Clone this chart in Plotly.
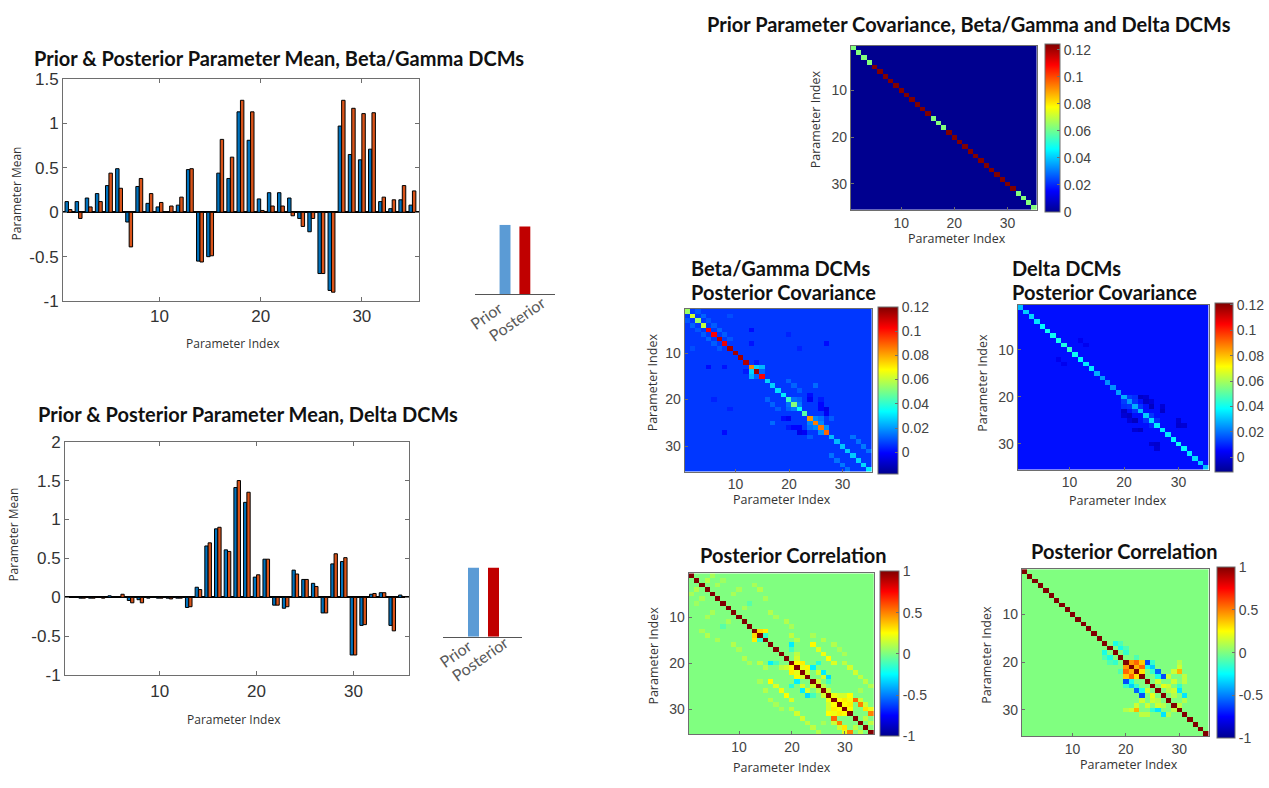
import plotly.graph_objects as go

W, H = 1269, 788

# ---------------- data ----------------
param_index = list(range(1, 36))
tick_vals = [10, 20, 30]

bg_prior_mean = [0.12, 0.12, 0.16, 0.21, 0.30, 0.49, -0.11, 0.29, 0.10, 0.06,
                 0.00, 0.08, 0.48, -0.55, -0.50, 0.44, 0.38, 1.13, 0.81, 0.15,
                 0.22, 0.22, 0.16, -0.07, -0.22, -0.69, -0.88, 0.97, 0.65, 0.59,
                 0.71, 0.12, 0.04, 0.14, 0.08]
bg_post_mean = [0.03, -0.07, 0.06, 0.12, 0.44, 0.27, -0.39, 0.38, 0.21, 0.11,
                0.07, 0.17, 0.49, -0.56, -0.49, 0.82, 0.62, 1.26, 1.13, 0.02,
                0.07, 0.07, -0.04, -0.16, -0.07, -0.69, -0.90, 1.26, 1.17, 1.11,
                1.12, 0.17, 0.14, 0.30, 0.24]
delta_prior_mean = [0.00, -0.01, -0.01, 0.00, 0.02, 0.00, -0.04, -0.03, -0.01, -0.01,
                    -0.01, -0.01, -0.13, 0.13, 0.66, 0.88, 0.61, 1.41, 1.22, 0.26,
                    0.49, -0.10, -0.14, 0.35, 0.23, 0.18, -0.20, 0.43, 0.46, -0.74,
                    -0.36, 0.04, 0.06, -0.36, 0.03]
delta_post_mean = [0.00, -0.01, -0.01, -0.01, 0.00, 0.04, -0.07, -0.07, 0.00, -0.01,
                   -0.02, -0.01, -0.12, 0.10, 0.70, 0.90, 0.59, 1.50, 1.35, 0.29,
                   0.49, -0.10, -0.12, 0.30, 0.23, 0.14, -0.20, 0.56, 0.51, -0.74,
                   -0.35, 0.05, 0.06, -0.43, 0.01]

legend_labels = ["Prior", "Posterior"]
legend_heights_bg = [1.0, 0.975]
legend_heights_delta = [1.0, 1.0]

mean_ticks = [-1, -0.5, 0, 0.5, 1, 1.5, 2]
mean_ticktext = ["-1", "-0.5", "0", "0.5", "1", "1.5", "2"]

prior_cov_diag = [0.0625, 0.0625, 0.0625, 0.0625, 0.125, 0.125, 0.125, 0.125, 0.125, 0.125,
                  0.125, 0.125, 0.125, 0.125, 0.125, 0.0625, 0.0625, 0.0625, 0.125, 0.125,
                  0.125, 0.125, 0.125, 0.125, 0.125, 0.125, 0.125, 0.125, 0.125, 0.125,
                  0.125, 0.0625, 0.0625, 0.0625, 0.0625]
prior_cov_off = 0.0

bg_cov_diag = [0.055, 0.062, 0.055, 0.060, 0.103, 0.103, 0.112, 0.105, 0.115, 0.115,
               0.115, 0.113, 0.085, 0.115, 0.103, 0.028, 0.028, 0.030, 0.032, 0.042,
               0.052, 0.035, 0.046, 0.083, 0.086, 0.087, 0.089, 0.025, 0.025, 0.026,
               0.027, 0.027, 0.028, 0.029, 0.031]
bg_cov_off = 0.007
bg_cov_cells = [(13, 14, 0.028), (13, 15, 0.024), (14, 15, 0.013), (5, 13, 0.001),
                (8, 13, 0.002), (8, 27, 0.001), (20, 24, -0.002), (21, 26, 0.0),
                (22, 27, -0.004), (22, 26, 0.0), (19, 24, 0.001), (23, 27, -0.002),
                (20, 21, 0.015), (21, 22, 0.016), (20, 22, 0.013), (24, 25, 0.018),
                (25, 26, 0.018), (26, 27, 0.019), (24, 26, 0.015), (28, 32, 0.015),
                (29, 33, 0.015), (30, 34, 0.016), (31, 35, 0.015), (16, 20, 0.013),
                (17, 21, 0.013), (18, 22, 0.012), (2, 4, 0.013), (3, 5, 0.011),
                (1, 3, 0.011), (4, 6, 0.012), (5, 7, 0.013), (6, 8, 0.012),
                (7, 9, 0.011), (17, 25, 0.014), (12, 14, 0.003), (6, 20, 0.004),
                (2, 9, 0.010), (24, 28, 0.012), (20, 26, 0.003), (9, 22, 0.004)]

delta_cov_diag = [0.030, 0.032, 0.033, 0.035, 0.038, 0.040, 0.040, 0.041, 0.042, 0.045,
                  0.040, 0.038, 0.036, 0.036, 0.028, 0.025, 0.024, 0.024, 0.026, 0.028,
                  0.025, 0.028, 0.030, 0.032, 0.034, 0.036, 0.036, 0.036, 0.038, 0.040,
                  0.038, 0.036, 0.034, 0.032, 0.030]
delta_cov_off = 0.007
delta_cov_cells = [(20, 23, -0.003), (22, 25, -0.004), (23, 27, -0.003), (21, 24, -0.003),
                   (22, 27, -0.001), (26, 30, -0.002), (25, 30, -0.001), (26, 31, -0.001),
                   (20, 24, -0.001), (21, 25, 0.000), (20, 21, 0.013), (21, 22, 0.012),
                   (22, 23, 0.012), (20, 22, 0.011), (8, 12, 0.003), (9, 13, 0.003),
                   (24, 25, 0.012), (25, 26, 0.011)]

corr_diag = [1.0, 1.0, 1.0, 1.0, 1.0, 1.0, 1.0, 1.0, 1.0, 1.0,
             1.0, 1.0, 1.0, 1.0, 1.0, 1.0, 1.0, 1.0, 1.0, 1.0,
             1.0, 1.0, 1.0, 1.0, 1.0, 1.0, 1.0, 1.0, 1.0, 1.0,
             1.0, 1.0, 1.0, 1.0, 1.0]
corr_off = 0.0
bg_corr_cells = [(13, 14, 0.32), (13, 15, 0.28), (14, 15, -0.15),
                 (16, 20, -0.28), (16, 24, 0.26), (17, 25, 0.18), (18, 26, 0.22),
                 (19, 27, 0.25), (20, 28, 0.18), (17, 20, -0.12), (18, 21, 0.12),
                 (20, 21, 0.25), (20, 22, 0.28), (21, 22, 0.20), (21, 23, 0.26),
                 (22, 23, 0.18), (19, 21, 0.16), (21, 24, -0.28), (22, 26, -0.28),
                 (23, 27, -0.32), (20, 25, -0.18), (22, 25, 0.16), (23, 26, 0.16),
                 (24, 27, -0.12), (24, 25, 0.16), (25, 26, 0.12), (26, 27, 0.16),
                 (27, 28, 0.22), (28, 29, 0.25), (28, 30, 0.28), (28, 31, 0.22),
                 (29, 30, 0.25), (29, 31, 0.28), (30, 31, 0.25), (27, 29, 0.16),
                 (27, 30, 0.16), (28, 32, 0.55), (29, 33, 0.50), (31, 35, 0.50),
                 (30, 34, 0.30), (27, 31, 0.25), (29, 34, 0.15), (28, 33, 0.15),
                 (30, 35, 0.20), (32, 34, 0.12), (33, 35, 0.12), (2, 4, 0.10),
                 (3, 6, 0.08), (5, 9, 0.08), (7, 12, -0.08), (9, 16, 0.10),
                 (10, 17, 0.08), (11, 19, 0.10), (12, 20, 0.08), (6, 15, 0.08),
                 (4, 14, 0.10), (3, 13, 0.08), (14, 20, 0.12), (15, 21, 0.10),
                 (14, 24, 0.08), (15, 26, 0.10), (20, 30, 0.12), (21, 31, 0.16),
                 (22, 32, 0.16), (23, 33, 0.12), (24, 34, 0.12), (25, 35, 0.10),
                 (26, 33, 0.08), (18, 30, 0.08), (17, 29, 0.08), (16, 28, 0.10),
                 (1, 5, 0.08), (2, 7, 0.06), (4, 10, 0.08), (8, 11, 0.08)]
delta_corr_cells = [(20, 21, 0.45), (20, 22, 0.55), (20, 23, 0.35), (21, 22, 0.40),
                    (21, 23, 0.55), (22, 23, 0.30), (20, 24, -0.60), (21, 25, -0.35),
                    (22, 26, -0.55), (23, 27, -0.60), (21, 24, -0.20), (22, 25, -0.15),
                    (23, 26, -0.20), (20, 25, -0.15), (22, 30, 0.40), (26, 30, -0.30),
                    (27, 31, -0.30), (25, 30, -0.15), (24, 29, 0.15), (23, 28, 0.15),
                    (25, 28, 0.15), (26, 28, 0.10), (24, 26, 0.15), (25, 27, 0.20),
                    (16, 18, -0.20), (17, 19, -0.20), (16, 19, -0.10), (18, 20, -0.15),
                    (17, 20, -0.10), (19, 22, -0.10), (21, 30, 0.15), (22, 29, 0.15),
                    (20, 30, 0.10), (23, 31, 0.12), (24, 31, 0.12), (26, 29, 0.15),
                    (27, 29, 0.10), (28, 31, 0.10), (29, 30, 0.12)]

cov_ticks = [0, 0.02, 0.04, 0.06, 0.08, 0.1, 0.12]
cov_ticktext = ["0", "0.02", "0.04", "0.06", "0.08", "0.1", "0.12"]
corr_ticks = [-1, -0.5, 0, 0.5, 1]
corr_ticktext = ["-1", "-0.5", "0", "0.5", "1"]


def build_matrix(diag, off, cells):
    n = len(diag)
    m = [[off for _ in range(n)] for _ in range(n)]
    for k in range(n):
        m[k][k] = diag[k]
    for i, j, v in cells:
        m[i - 1][j - 1] = v
        m[j - 1][i - 1] = v
    return m


prior_cov = build_matrix(prior_cov_diag, prior_cov_off, [])
bg_cov = build_matrix(bg_cov_diag, bg_cov_off, bg_cov_cells)
delta_cov = build_matrix(delta_cov_diag, delta_cov_off, delta_cov_cells)
bg_corr = build_matrix(corr_diag, corr_off, bg_corr_cells)
delta_corr = build_matrix(corr_diag, corr_off, delta_corr_cells)

# ---------------- styling helpers ----------------
JET = [[0.0, "rgb(0,0,143)"], [0.125, "rgb(0,0,255)"], [0.375, "rgb(0,255,255)"],
       [0.625, "rgb(255,255,0)"], [0.875, "rgb(255,0,0)"], [1.0, "rgb(128,0,0)"]]
TICKFONT = dict(family="Liberation Sans, Arial", size=17, color="#333333")
HTICKFONT = dict(family="Liberation Sans, Arial", size=14, color="#444444")
TITLEFONT = dict(family="Lato, Open Sans", size=20, color="#111111")
LABELFONT = dict(family="Open Sans, Noto Sans", size=12, color="#333333")
FRAME = "#6e6e6e"


def xd(l, r):
    return [l / W, r / W]


def yd(t, b):
    return [1 - b / H, 1 - t / H]


fig = go.Figure()
layout = dict(width=W, height=H, margin=dict(l=0, r=0, t=0, b=0), autosize=False,
              paper_bgcolor="white", plot_bgcolor="white", showlegend=False,
              barmode="group", bargap=0.32, bargroupgap=0.0)
annotations = []


def ann(text, px, py, font, angle=0, xanchor="center"):
    annotations.append(dict(text=text, x=px / W, y=1 - py / H, xref="paper", yref="paper",
                            showarrow=False, font=font, textangle=angle,
                            xanchor=xanchor, yanchor="middle"))


# ---------------- bar charts ----------------
def bar_panel(idx, prior, post, xdom, ydom, xr, yr):
    key = "" if idx == 1 else str(idx)
    xa, ya = "x" + key, "y" + key
    fig.add_trace(go.Bar(x=param_index, y=prior, xaxis=xa, yaxis=ya,
                         marker=dict(color="#0072BD", line=dict(color="black", width=1))))
    fig.add_trace(go.Bar(x=param_index, y=post, xaxis=xa, yaxis=ya,
                         marker=dict(color="#D95319", line=dict(color="black", width=1))))
    layout["xaxis" + key] = dict(domain=xdom, range=xr, tickvals=tick_vals, ticks="inside",
                                 ticklen=4, tickcolor=FRAME, showline=True, linecolor=FRAME,
                                 mirror="ticks", showgrid=False, zeroline=False,
                                 tickfont=TICKFONT, anchor=ya, fixedrange=True)
    layout["yaxis" + key] = dict(domain=ydom, range=yr,
                                 tickvals=[t for t in mean_ticks if yr[0] <= t <= yr[1]],
                                 ticktext=[s for t, s in zip(mean_ticks, mean_ticktext) if yr[0] <= t <= yr[1]],
                                 ticks="inside", ticklen=4, tickcolor=FRAME, showline=True,
                                 linecolor=FRAME, mirror="ticks", showgrid=False,
                                 zeroline=True, zerolinecolor="black", zerolinewidth=1.5,
                                 tickfont=TICKFONT, anchor=xa, fixedrange=True)


def legend_panel(idx, heights, xdom, ydom, xr):
    key = str(idx)
    fig.add_trace(go.Bar(x=[1, 2], y=heights, width=0.55, xaxis="x" + key, yaxis="y" + key,
                         marker=dict(color=["#5B9BD5", "#C00000"], line=dict(width=0))))
    layout["xaxis" + key] = dict(domain=xdom, range=xr, showticklabels=False, ticks="",
                                 showline=True, linecolor="#555555", linewidth=1.2,
                                 showgrid=False, zeroline=False, anchor="y" + key, fixedrange=True)
    layout["yaxis" + key] = dict(domain=ydom, range=[0, 1], visible=False,
                                 anchor="x" + key, fixedrange=True)


bar_panel(1, bg_prior_mean, bg_post_mean, xd(63, 418.5), yd(71.7, 299.3), [0.46, 35.6], [-1, 1.5])
legend_panel(2, legend_heights_bg, xd(474.5, 554.6), yd(221, 292.3), [-0.54, 3.5])
bar_panel(3, delta_prior_mean, delta_post_mean, xd(65, 408.5), yd(443.3, 682.7), [0.23, 35.68], [-1, 2])
legend_panel(4, legend_heights_delta, xd(443, 522), yd(572.3, 643.3), [-0.525, 3.425])

LEGFONT = dict(family="Lato, Open Sans", size=16, color="#595959")
ann(legend_labels[0], 486, 314, LEGFONT, angle=-35)
ann(legend_labels[1], 517, 317.5, LEGFONT, angle=-35)
ann(legend_labels[0], 455, 660, LEGFONT, angle=-35)
ann(legend_labels[1], 480, 666, LEGFONT, angle=-35)

ann("<b>Prior &amp; Posterior Parameter Mean, Beta/Gamma DCMs</b>", 278.5, 50, TITLEFONT)
ann("<b>Prior &amp; Posterior Parameter Mean, Delta DCMs</b>", 247.6, 415, TITLEFONT)
ann("Parameter Index", 233, 343, LABELFONT)
ann("Parameter Mean", 16, 189, LABELFONT, angle=-90)
ann("Parameter Index", 234, 728, LABELFONT)
ann("Parameter Mean", 12.6, 539, LABELFONT, angle=-90)


# ---------------- heatmaps ----------------
def heat_panel(idx, z, zr, ticks, ticktext, box, cb):
    key = str(idx)
    l, r, t, b = box
    cbl, cbw = cb
    fig.add_trace(go.Heatmap(
        z=z, x=param_index, y=param_index, xaxis="x" + key, yaxis="y" + key,
        colorscale=JET, zmin=zr[0], zmax=zr[1], hoverinfo="skip",
        colorbar=dict(x=cbl / W, xanchor="left", y=1 - (t + b) / 2 / H, yanchor="middle",
                      len=b - t, lenmode="pixels", thickness=cbw, thicknessmode="pixels",
                      xpad=0, ypad=0, outlinecolor=FRAME, outlinewidth=1,
                      tickvals=ticks, ticktext=ticktext, ticks="inside", ticklen=3,
                      tickcolor=FRAME, tickfont=HTICKFONT)))
    common = dict(tickvals=tick_vals, ticks="inside", ticklen=3, tickcolor=FRAME,
                  showline=True, linecolor=FRAME, mirror=True, showgrid=False,
                  zeroline=False, tickfont=HTICKFONT, fixedrange=True)
    layout["xaxis" + key] = dict(domain=xd(l, r), range=[0.5, 35.5], anchor="y" + key, **common)
    layout["yaxis" + key] = dict(domain=yd(t, b), range=[35.5, 0.5], anchor="x" + key, **common)


heat_panel(5, prior_cov, [0, 0.1245], cov_ticks, cov_ticktext, (850.8, 1036.7, 37.7, 205.7), (1044.6, 15))
heat_panel(6, bg_cov, [-0.0176, 0.12], cov_ticks, cov_ticktext, (684.6, 872, 307.3, 474), (878, 20))
heat_panel(7, delta_cov, [-0.0114, 0.1216], cov_ticks, cov_ticktext, (1017.7, 1208.5, 303.3, 472), (1214.6, 18))
heat_panel(8, bg_corr, [-1, 1], cov_ticks and corr_ticks, corr_ticktext, (688.7, 874, 578.3, 743.3), (880, 19))
heat_panel(9, delta_corr, [-1, 1], corr_ticks, corr_ticktext, (1021.8, 1208.5, 574, 745), (1216.7, 18))

HLABEL = dict(family="Open Sans, Noto Sans", size=12.5, color="#333333")
ann("<b>Prior Parameter Covariance, Beta/Gamma and Delta DCMs</b>", 968.8, 15, TITLEFONT)
ann("<b>Beta/Gamma DCMs</b>", 689, 265, TITLEFONT, xanchor="left")
ann("<b>Posterior Covariance</b>", 689, 290, TITLEFONT, xanchor="left")
ann("<b>Delta DCMs</b>", 1010, 265, TITLEFONT, xanchor="left")
ann("<b>Posterior Covariance</b>", 1010, 290, TITLEFONT, xanchor="left")
ann("<b>Posterior Correlation</b>", 793, 560, TITLEFONT)
ann("<b>Posterior Correlation</b>", 1124, 555, TITLEFONT)

ann("Parameter Index", 956.6, 235, HLABEL)
ann("Parameter Index", 815, 113, HLABEL, angle=-90)
ann("Parameter Index", 782, 503, HLABEL)
ann("Parameter Index", 652.6, 383, HLABEL, angle=-90)
ann("Parameter Index", 1118, 504, HLABEL)
ann("Parameter Index", 983, 383, HLABEL, angle=-90)
ann("Parameter Index", 781.8, 777, HLABEL)
ann("Parameter Index", 652.6, 663, HLABEL, angle=-90)
ann("Parameter Index", 1128.5, 774, HLABEL)
ann("Parameter Index", 987, 661.7, HLABEL, angle=-90)

layout["annotations"] = annotations
fig.update_layout(**layout)
fig.write_html("out.html")
